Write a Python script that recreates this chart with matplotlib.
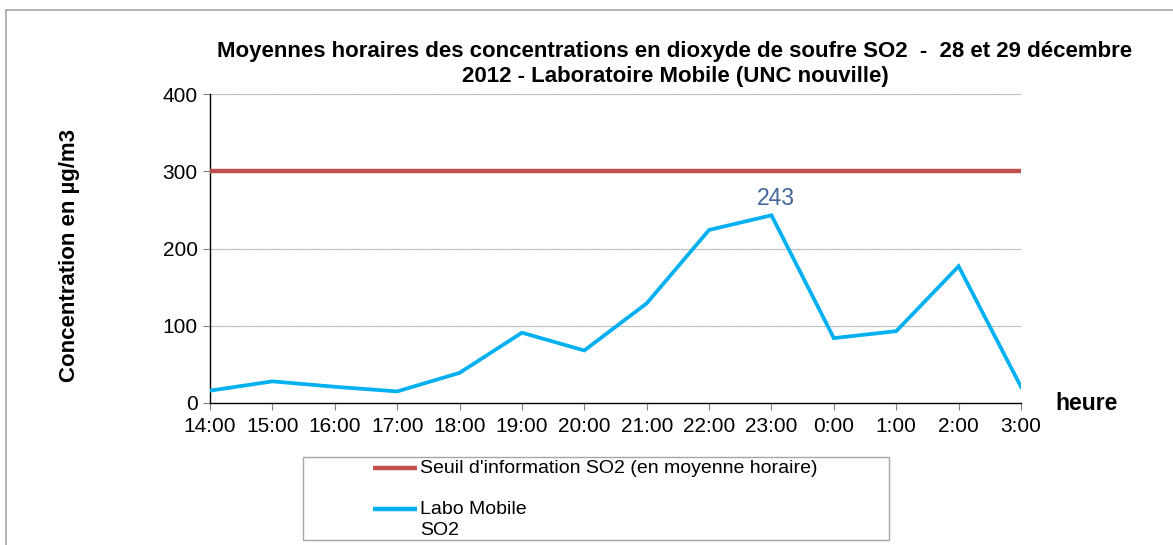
import matplotlib
matplotlib.use("Agg")
import matplotlib.pyplot as plt
from matplotlib.lines import Line2D
from matplotlib.patches import Rectangle

plt.rcParams["font.family"] = ["Liberation Sans", "DejaVu Sans"]

W, H = 1173, 545

hours = ["14:00", "15:00", "16:00", "17:00", "18:00", "19:00", "20:00",
         "21:00", "22:00", "23:00", "0:00", "1:00", "2:00", "3:00"]
labo_so2 = [16, 28, 21, 15, 39, 91, 68, 129, 224, 243, 84, 93, 177, 21]
seuil_so2 = [300, 300, 300, 300, 300, 300, 300, 300, 300, 300, 300, 300, 300, 300]
y_ticks = [0, 100, 200, 300, 400]

title = ("Moyennes horaires des concentrations en dioxyde de soufre SO2  -  28 et 29 décembre\n"
         "2012 - Laboratoire Mobile (UNC nouville)")
seuil_label = "Seuil d'information SO2 (en moyenne horaire)"
labo_label = "Labo Mobile\nSO2"

RED = "#C0504D"
BLUE = "#00B0F0"


def px(x, y):
    # pixel coords (top-left origin) -> figure fraction
    return x / W, 1 - y / H


def main():
    fig = plt.figure(figsize=(W / 100, H / 100), dpi=100)

    # outer chart frame
    fig.patches.append(Rectangle(px(6, 560), 1.2, (560 - 10) / H, transform=fig.transFigure,
                                 fill=False, edgecolor="#A6A6A6", lw=1.2))

    x0, x1, y0, y1 = 210, 1021, 403, 94
    ax = fig.add_axes([x0 / W, 1 - y0 / H, (x1 - x0) / W, (y0 - y1) / H])

    xs = list(range(len(hours)))
    ax.plot(xs, seuil_so2, color=RED, lw=3.2, solid_capstyle="butt", zorder=3)
    ax.plot(xs, labo_so2, color=BLUE, lw=2.7, solid_joinstyle="miter", zorder=4)

    peak = labo_so2.index(max(labo_so2))
    ax.annotate(str(labo_so2[peak]), (peak, labo_so2[peak]), xytext=(3.5, 7.5),
                textcoords="offset points", ha="center", va="baseline",
                fontsize=16.5, color="#44679A")

    ax.set_xlim(0, len(hours) - 1)
    ax.set_ylim(0, 400)
    ax.set_xticks(xs)
    ax.set_xticklabels(hours, fontsize=15)
    ax.set_yticks(y_ticks)
    ax.set_yticklabels([str(v) for v in y_ticks], fontsize=15)
    ax.tick_params(axis="x", direction="out", length=5, width=0.8, color="#808080", pad=5)
    ax.tick_params(axis="y", direction="out", length=5, width=0.8, color="#808080", pad=4)

    for v in y_ticks[1:]:
        ax.axhline(v, color="#A0A0A0", lw=0.8, ls=(0, (1, 0.5)), zorder=1)

    for side in ["top", "right"]:
        ax.spines[side].set_visible(False)
    ax.spines["left"].set_color("black")
    ax.spines["bottom"].set_color("black")
    ax.spines["left"].set_linewidth(1)
    ax.spines["bottom"].set_linewidth(1)

    fig.text(*px(675, 64), title, ha="center", va="center", fontsize=16,
             fontweight="bold", linespacing=1.2)
    fig.text(*px(70, 255), "Concentration en µg/m3", rotation=90, ha="center",
             va="center", fontsize=16, fontweight="bold")
    fig.text(*px(1055, 404), "heure", ha="left", va="center", fontsize=16.5,
             fontweight="bold")

    # legend box
    lx0, ly0, lx1, ly1 = 303, 457, 889, 540
    fig.patches.append(Rectangle(px(lx0, ly1), (lx1 - lx0) / W, (ly1 - ly0) / H,
                                 transform=fig.transFigure, fill=False,
                                 edgecolor="#A6A6A6", lw=1))
    for color, label, y in [(RED, seuil_label, 468), (BLUE, labo_label, 509)]:
        fig.lines.append(Line2D([373 / W, 417 / W], [1 - y / H, 1 - y / H],
                                transform=fig.transFigure, color=color, lw=3.2,
                                solid_capstyle="butt"))
        fig.text(420 / W, 1 - (y - 8) / H, label, ha="left", va="top",
                 fontsize=14, linespacing=1.3)

    fig.savefig("out.png", dpi=100)


if __name__ == "__main__":
    main()
